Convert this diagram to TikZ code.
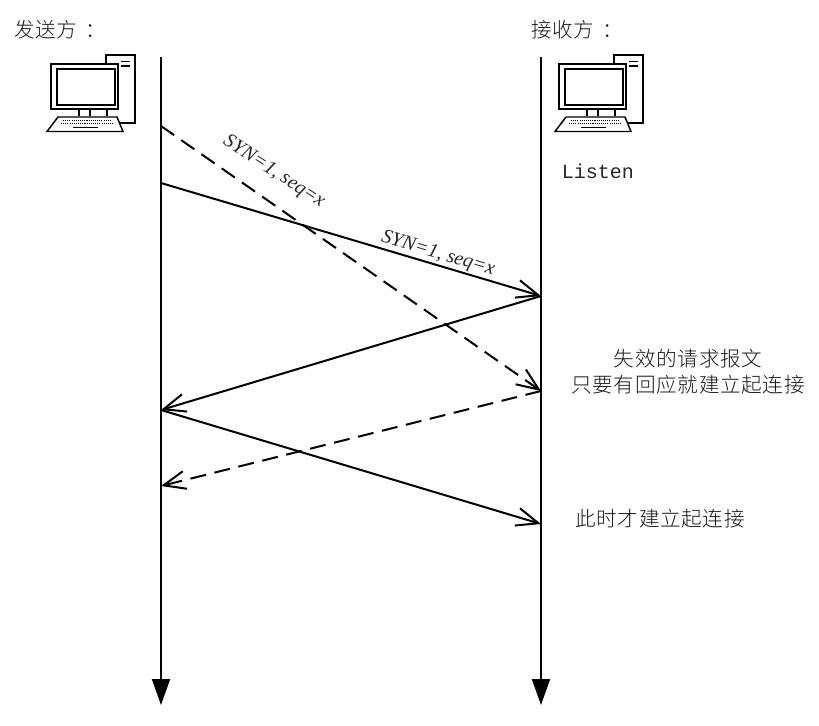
\documentclass[tikz,border=0pt]{standalone}
\usepackage{fontspec}
\setmainfont{Liberation Serif}
\newfontfamily\cjkfont{Noto Sans CJK SC Light}[LetterSpace=3.5]
\newfontfamily\monofont{Liberation Mono}
\usetikzlibrary{arrows.meta}
\tikzset{
  cn/.style={scale=0.75,inner sep=0pt,font=\cjkfont\fontsize{20.6}{26}\selectfont,text=black!90,align=center},
  lifeline/.style={line width=1.5pt,-{Triangle[length=19.5pt,width=13.5pt]}},
  msg/.style={line width=1.5pt,-{Straight Barb[length=16.5pt,width=13.5pt,line width=1.5pt]}},
  msgdash/.style={msg,dash pattern=on 12pt off 6.5pt},
  synlabel/.style={scale=0.75,inner sep=0pt,font=\fontsize{20}{24}\selectfont\itshape,text=black!85},
  monolabel/.style={scale=0.75,inner sep=0pt,font=\monofont\fontsize{20}{24}\selectfont,text=black!85},
  iconline/.style={line width=1.1pt,line join=miter},
  pc/.pic={
    \draw[iconline] (55,64) -- (55,55) -- (84,55) -- (84,123) -- (67,123);
    \draw[iconline] (70,61.5) -- (79,61.5) (70,66) -- (79,66);
    \draw[iconline] (0,64) rectangle (67,109);
    \draw[iconline] (6,69) rectangle (64,105);
    \draw[iconline] (28,109) -- (28,116) (39,109) -- (39,116) (56,109) -- (56,116);
    \draw[iconline,fill=white] (7,117) -- (66,117) -- (72,131.5) -- (-4,131.5) -- cycle;
    \draw[line width=1.2pt,dash pattern=on 0.8pt off 0.8pt] (12,120.5) -- (61,120.5) (10,123.5) -- (63,123.5);
    \draw[line width=0.9pt] (22,127.5) -- (47,127.5);
  }
}
\begin{document}
\begin{tikzpicture}[x=0.75pt,y=-0.75pt]
\useasboundingbox (0,0) rectangle (819,726);
\coordinate (s0) at (161,57);
\coordinate (s1) at (161,705);
\coordinate (r0) at (541,57);
\coordinate (r1) at (541,705);
\coordinate (a1) at (161,126);
\coordinate (b1) at (541,391);
\coordinate (a2) at (161,183);
\coordinate (b2) at (541,296);
\coordinate (a3) at (161,410);
\coordinate (a4) at (161,486);
\coordinate (b3) at (541,524);
\draw[lifeline] (s0) -- (s1);
\draw[lifeline] (r0) -- (r1);
\draw[msgdash] (a1) -- (b1);
\draw[msg] (a2) -- (b2);
\draw[msg] (b2) -- (a3);
\draw[msg] (a3) -- (b3);
\draw[msgdash] (b1) -- (a4);
\pic at (51,0) {pc};
\pic at (559,0) {pc};
\node[cn,anchor=west] (sender) at (14,30) {发送方\hspace{0.4em}：};
\node[cn,anchor=west] (receiver) at (531,30) {接收方\hspace{0.4em}：};
\node[monolabel] (listen) at (598,171) {Listen};
\node[synlabel,rotate=-33] (syn1) at (274,172) {SYN=1, seq=x};
\node[synlabel,rotate=-16.6] (syn2) at (438,254) {SYN=1, seq=x};
\node[cn] (fail) at (688,372) {失效的请求报文\\只要有回应就建立起连接};
\node[cn] (now) at (660,519) {此时才建立起连接};
\end{tikzpicture}
\end{document}
